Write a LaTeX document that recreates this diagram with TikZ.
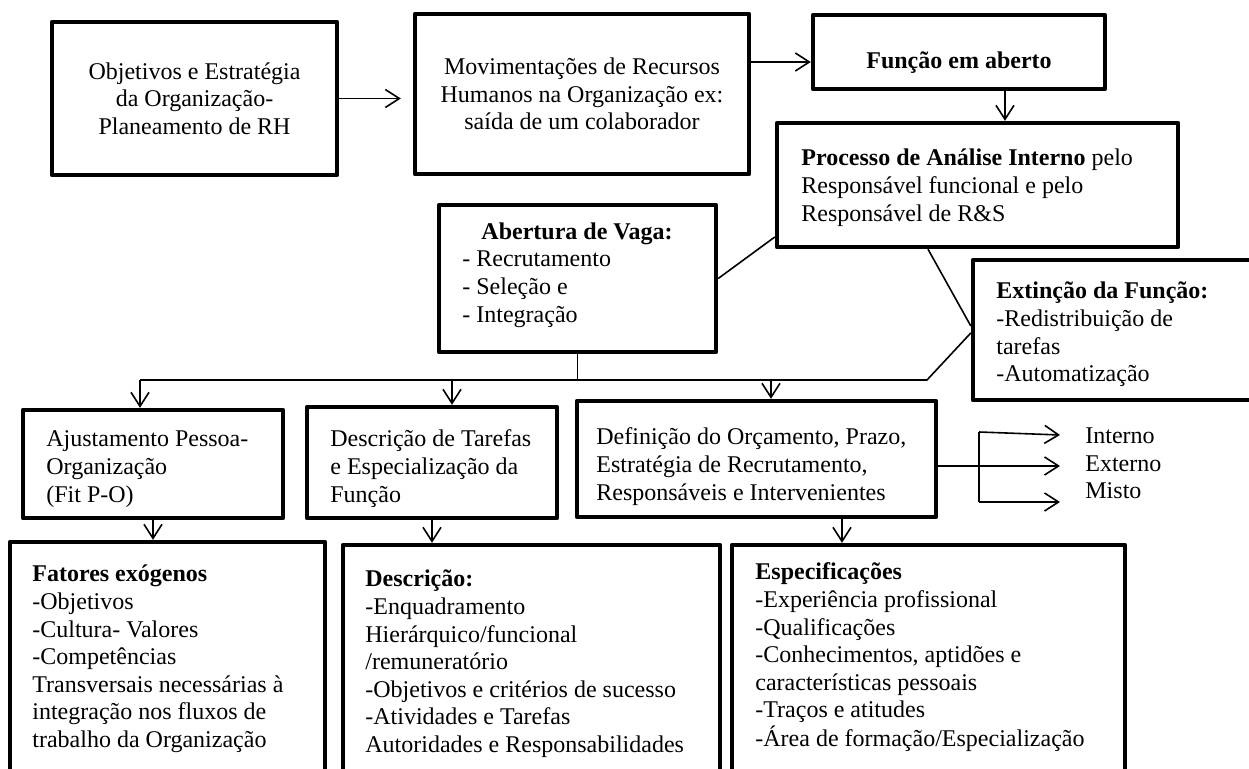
\documentclass[tikz,border=0pt]{standalone}
\usepackage{fontspec}
\setmainfont{Liberation Serif}
\usetikzlibrary{arrows.meta,calc}
\newcommand{\mylines}[1]{\begin{tabular}[t]{@{}l@{}}#1\end{tabular}}
\begin{document}
\fontsize{12}{13.8}\selectfont
\begin{tikzpicture}[x=0.5pt,y=-0.5pt,
  box/.style={draw,line width=2.2pt,line join=round,inner sep=0pt,anchor=center},
  conn/.style={line width=0.8pt},
  arr/.style={conn,-{Straight Barb[length=7pt,width=9pt]}},
  txt/.style={anchor=base west,inner sep=0pt},
  ctxt/.style={anchor=base,align=center,inner sep=0pt},
]
\fill[white] (0,0) rectangle (1249,769);
\useasboundingbox (0,0) rectangle (1249,769);

% top row
\node[box,minimum width=142.5pt,minimum height=76.5pt,align=center] (obj) at (194.5,98.5)
  {Objetivos e Estratégia\\da Organização-\\Planeamento de RH};
\node[box,minimum width=167pt,minimum height=80pt,align=center] (mov) at (582,94)
  {Movimentações de Recursos\\Humanos na Organização ex:\\saída de um colaborador};
\node[box,minimum width=146pt,minimum height=37pt] (fun) at (959,52) {};
\node[ctxt] (funT) at (959,69) {\textbf{Função em aberto}};

\node[box,minimum width=200.5pt,minimum height=62pt] (proc) at (977.5,185) {};
\node[txt] (procT) at (801,166) {\mylines{\textbf{Processo de Análise Interno} pelo\\Responsável funcional e pelo\\Responsável de R\&S}};

\node[box,minimum width=138.5pt,minimum height=73.5pt] (abe) at (577.5,278.5) {};
\node[ctxt] (abeT) at (577,240) {\textbf{Abertura de Vaga:}};
\node[txt] (abeL) at (462,267) {\mylines{- Recrutamento\\- Seleção e\\- Integração}};

\node[box,minimum width=143.5pt,minimum height=70pt] (ext) at (1116.5,330) {};
\node[txt] (extT) at (996,299) {\mylines{\textbf{Extinção da Função:}\\-Redistribuição de\\tarefas\\-Automatização}};

% middle row
\node[box,minimum width=130pt,minimum height=54pt] (aju) at (153,464) {};
\node[txt] (ajuT) at (46,447) {\mylines{Ajustamento Pessoa-\\Organização\\(Fit P-O)}};

\node[box,minimum width=125pt,minimum height=55.5pt] (dtar) at (432,462.5) {};
\node[txt] (dtarT) at (330,447) {\mylines{Descrição de Tarefas\\e Especialização da\\Função}};

\node[box,minimum width=179.5pt,minimum height=58pt] (def) at (756.5,459) {};
\node[txt] (defT) at (596,445) {\mylines{Definição do Orçamento, Prazo,\\Estratégia de Recrutamento,\\Responsáveis e Intervenientes}};

\node[txt] (int) at (1085,444) {Interno};
\node[txt] (oext) at (1085,472) {Externo};
\node[txt] (mis) at (1085,499) {Misto};

% bottom row
\node[box,minimum width=157.5pt,minimum height=129pt] (fat) at (167.5,671) {};
\node[txt] (fatT) at (32,582) {\mylines{\textbf{Fatores exógenos}\\-Objetivos\\-Cultura- Valores\\-Competências\\Transversais necessárias à\\integração nos fluxos de\\trabalho da Organização}};

\node[box,minimum width=188.5pt,minimum height=127.5pt] (desc) at (531.5,672.5) {};
\node[txt] (descT) at (365,587) {\mylines{\textbf{Descrição:}\\-Enquadramento\\Hierárquico/funcional\\/remuneratório\\-Objetivos e critérios de sucesso\\-Atividades e Tarefas\\Autoridades e Responsabilidades}};

\node[box,minimum width=196.5pt,minimum height=127.5pt] (esp) at (928.5,672.5) {};
\node[txt] (espT) at (755,580) {\mylines{\textbf{Especificações}\\-Experiência profissional\\-Qualificações\\-Conhecimentos, aptidões e\\características pessoais\\-Traços e atitudes\\-Área de formação/Especialização}};

% connectors
\draw[arr,shorten >=6pt] (obj.east) -- (obj.east -| mov.west);
\draw[arr] ([yshift=16pt]mov.east) -- ([yshift=16pt]mov.east -| fun.west);
\draw[arr] ([xshift=23pt]fun.south) -- ([xshift=23pt]fun.south |- proc.north);
\draw[conn] (abe.east) -- ([yshift=-26pt]proc.west);
\draw[conn] ([xshift=-24.75pt]proc.south) -- ([yshift=2pt]ext.west);

\coordinate (busL) at (140,380);
\coordinate (busR) at (927,380);
\coordinate (b2) at (452,380);
\coordinate (b3) at (771,380);
\draw[conn] (busL) -- (busR) -- ([yshift=-1.5pt]ext.west);
\draw[conn] (abe.south) -- (abe.south |- busL);
\draw[arr] (busL) -- (busL |- aju.north);
\draw[arr] (b2) -- (b2 |- dtar.north);
\draw[arr] (b3) -- (b3 |- def.north);

\draw[arr] (aju.south) -- (aju.south |- fat.north);
\draw[arr] (dtar.south) -- (dtar.south |- desc.north);
\draw[arr] ([xshift=42.75pt]def.south) -- ([xshift=42.75pt]def.south |- esp.north);

\coordinate (brT) at (979,432);
\coordinate (brB) at (979,502);
\coordinate (tI) at (1060,435);
\coordinate (tE) at (1060,466);
\coordinate (tM) at (1060,502);
\draw[conn] (brT) -- (brB);
\draw[arr] (brT) -- (tI);
\draw[arr] ([yshift=-3.5pt]def.east) -- (tE);
\draw[arr] (brB) -- (tM);
\end{tikzpicture}
\end{document}
